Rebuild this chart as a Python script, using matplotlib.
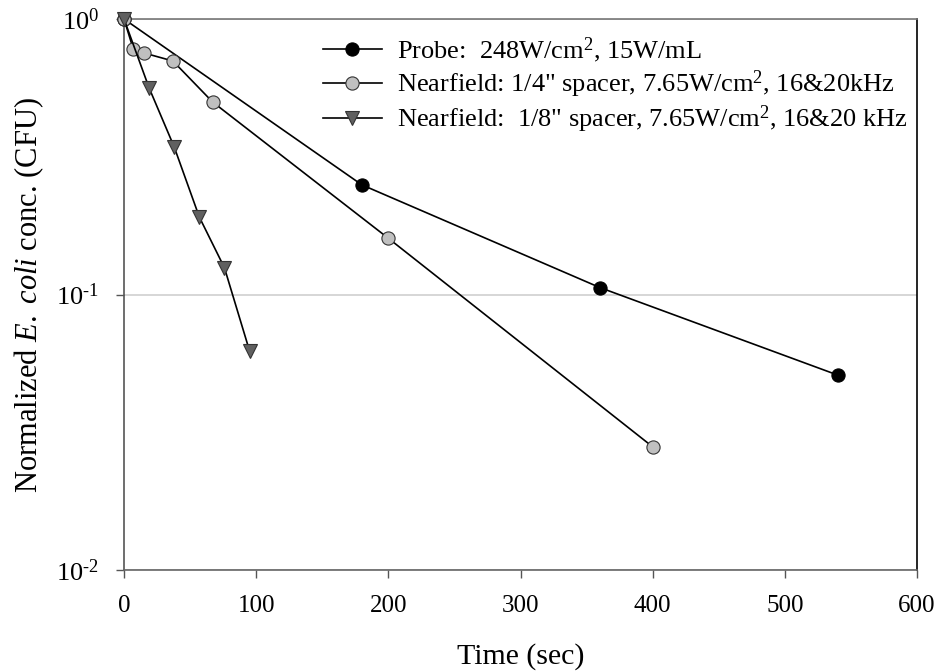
import matplotlib
matplotlib.use("Agg")
import matplotlib.pyplot as plt
from matplotlib.ticker import LogLocator, NullLocator, FuncFormatter
import numpy as np

plt.rcParams['font.family'] = ['Liberation Serif', 'DejaVu Serif']
plt.rcParams['mathtext.fontset'] = 'custom'
plt.rcParams['mathtext.rm'] = 'Liberation Serif'
plt.rcParams['mathtext.it'] = 'Liberation Serif:italic'
plt.rcParams['mathtext.bf'] = 'Liberation Serif:bold'

# Inactivation data (time in seconds, normalized CFU)
probe_t = [0, 180, 360, 540]
probe_c = [1.0, 0.25, 0.106, 0.051]

quarter_t = [0, 7, 15, 37, 67, 200, 400]
quarter_c = [1.0, 0.778, 0.753, 0.704, 0.50, 0.160, 0.028]

eighth_t = [0, 19, 38, 57, 76, 95]
eighth_c = [1.0, 0.562, 0.343, 0.191, 0.125, 0.0624]

labels = [
    "Probe:  248W/cm$^2$, 15W/mL",
    'Nearfield: 1/4" spacer, 7.65W/cm$^2$, 16&20kHz',
    'Nearfield:  1/8" spacer, 7.65W/cm$^2$, 16&20 kHz',
]

x_ticks = [0, 100, 200, 300, 400, 500, 600]


def decade_label(v, pos):
    exp = int(round(np.log10(v)))
    if exp < 0:
        return r"$10^{\text{-}%d}$" % (-exp)
    return r"$10^{%d}$" % exp


fig = plt.figure(figsize=(9.4, 6.72), dpi=100)
ax = fig.add_axes([124 / 940, 1 - 570 / 672, (917 - 124) / 940, (570 - 19) / 672])

ax.set_yscale('log')
ax.set_xlim(0, 600)
ax.set_ylim(0.01, 1)

ax.grid(True, axis='y', which='major', color='#d0d0d0', linewidth=1.2, zorder=0)

common = dict(color='black', linewidth=1.2, markersize=9.5, clip_on=False, zorder=3)
ax.plot(probe_t, probe_c, marker='o', markerfacecolor='black',
        markeredgecolor='black', markeredgewidth=0.8, label=labels[0], **common)
ax.plot(quarter_t, quarter_c, marker='o', markerfacecolor='#c0c0c0',
        markeredgecolor='#333333', markeredgewidth=0.8, label=labels[1], **common)
ax.plot(eighth_t, eighth_c, marker='v', markerfacecolor='#606060',
        markeredgecolor='#333333', markeredgewidth=0.8, label=labels[2], **common)

ax.set_xticks(x_ticks)
ax.yaxis.set_major_locator(LogLocator(base=10, numticks=5))
ax.yaxis.set_minor_locator(NullLocator())
ax.yaxis.set_major_formatter(FuncFormatter(decade_label))
ax.tick_params(axis='both', which='major', direction='out', length=6,
               width=1.0, color='#555555')
ax.tick_params(axis='x', labelsize=18, pad=12)
ax.tick_params(axis='y', labelsize=19, pad=12)

ax.spines['left'].set_color('#555555')
ax.spines['bottom'].set_color('#666666')
ax.spines['top'].set_color('#777777')
ax.spines['right'].set_color('black')
for s in ax.spines.values():
    s.set_linewidth(1.2)

ax.set_xlabel("Time (sec)", fontsize=21.5, labelpad=19)
ax.set_ylabel(r"Normalized $\mathit{E.\ coli}$ conc. (CFU)", fontsize=22, labelpad=7)

ax.legend(loc='upper left', bbox_to_anchor=(0.231, 0.999), frameon=False,
          fontsize=19, handlelength=2.23, handletextpad=0.57, labelspacing=0.13,
          borderaxespad=0.2)

fig.savefig("out.png", dpi=100)
